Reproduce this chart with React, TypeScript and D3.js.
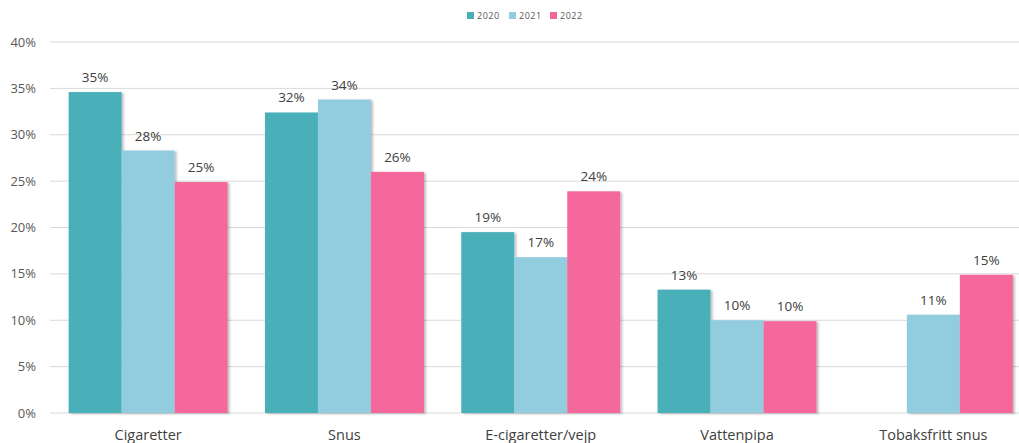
import React from "react";
import * as d3 from "d3";

const categories = ["Cigaretter", "Snus", "E-cigaretter/vejp", "Vattenpipa", "Tobaksfritt snus"];
const seriesNames = ["2020", "2021", "2022"];
const values2020: (number | null)[] = [34.6, 32.4, 19.5, 13.3, null];
const values2021: (number | null)[] = [28.3, 33.8, 16.8, 10.0, 10.6];
const values2022: (number | null)[] = [24.9, 26.0, 23.9, 9.9, 14.9];
const labels2020 = ["35%", "32%", "19%", "13%", ""];
const labels2021 = ["28%", "34%", "17%", "10%", "11%"];
const labels2022 = ["25%", "26%", "24%", "10%", "15%"];
const yTicks = [0, 5, 10, 15, 20, 25, 30, 35, 40];
const colors = ["#4AAFB9", "#92CDDF", "#F5679B"];

const W = 1019;
const H = 443;
const FONT = "'Open Sans', sans-serif";

export default function App() {
  const x0 = d3.scaleBand<string>().domain(categories).range([50, 1031.5]).paddingInner(0.19).paddingOuter(0.095);
  const x1 = d3.scaleBand<string>().domain(seriesNames).range([0, x0.bandwidth()]).padding(0);
  const y = d3.scaleLinear().domain([0, 40]).range([413, 42]);
  const series = [
    { name: "2020", vals: values2020, labels: labels2020 },
    { name: "2021", vals: values2021, labels: labels2021 },
    { name: "2022", vals: values2022, labels: labels2022 },
  ];
  const legendX = [467, 509, 550];
  return (
    <svg width={W} height={H} style={{ position: "absolute", left: 0, top: 0, background: "#fff" }}>
      <defs>
        <filter id="sh" x="-20%" y="-5%" width="140%" height="110%">
          <feDropShadow dx="2" dy="1" stdDeviation="1.2" floodColor="#000" floodOpacity="0.25" />
        </filter>
      </defs>
      {yTicks.map((t) => (
        <g key={t}>
          <line x1={50} x2={W} y1={y(t)} y2={y(t)} stroke="#D9D9D9" strokeWidth={1} />
          <text x={36} y={y(t)} dy="0.35em" textAnchor="end" fontFamily={FONT} fontSize={13} fill="#595959">
            {t}%
          </text>
        </g>
      ))}
      {series.map((s, si) =>
        categories.map((c, ci) => {
          const v = s.vals[ci];
          if (v == null) return null;
          const bx = (x0(c) as number) + (x1(s.name) as number);
          return (
            <rect key={s.name + c} x={bx} y={y(v)} width={x1.bandwidth()} height={y(0) - y(v)} fill={colors[si]} filter="url(#sh)" />
          );
        })
      )}
      {series.map((s, si) =>
        categories.map((c, ci) => {
          const v = s.vals[ci];
          if (v == null) return null;
          const bx = (x0(c) as number) + (x1(s.name) as number) + x1.bandwidth() / 2;
          return (
            <text key={"l" + s.name + c} x={bx} y={y(v) - 10} textAnchor="middle" fontFamily={FONT} fontSize={13.5} fill="#404040">
              {s.labels[ci]}
            </text>
          );
        })
      )}
      {categories.map((c) => (
        <text key={"x" + c} x={(x0(c) as number) + x0.bandwidth() / 2} y={440} textAnchor="middle" fontFamily={FONT} fontSize={14.5} fill="#404040">
          {c}
        </text>
      ))}
      {seriesNames.map((n, i) => (
        <g key={"lg" + n}>
          <rect x={legendX[i]} y={12} width={7} height={7} fill={colors[i]} />
          <text x={legendX[i] + 10} y={15.5} dy="0.35em" fontFamily={FONT} fontSize={9} letterSpacing={0.5} fill="#595959">
            {n}
          </text>
        </g>
      ))}
    </svg>
  );
}
